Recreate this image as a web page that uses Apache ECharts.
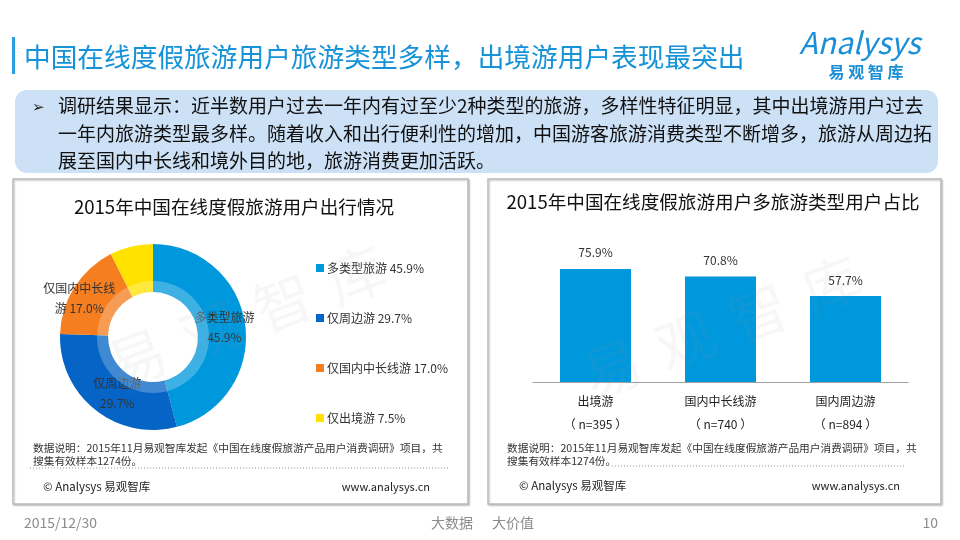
<!DOCTYPE html>
<html>
<head>
<meta charset="utf-8">
<script src="https://cdn.jsdelivr.net/npm/echarts@6/dist/echarts.min.js"></script>
<style>
html,body{margin:0;padding:0;background:#fff;}
#c{width:960px;height:540px;}
</style>
</head>
<body>
<div id="c"></div>
<script>
// ---- data ----
const pieCategories = ['多类型旅游', '仅周边游', '仅国内中长线游', '仅出境游'];
const pieValues = [45.9, 29.7, 17.0, 7.5];
const barCategories = ['出境游', '国内中长线游', '国内周边游'];
const barSamples = [395, 740, 894];
const barValues = [75.9, 70.8, 57.7];

const FONT = '"Noto Sans CJK SC", "Noto Sans", sans-serif';
const pieColors = ['#0098dc', '#0564c6', '#f57e20', '#ffe200'];
const labelPad = {
  '多类型旅游': [0, 0, 0, 0],
  '仅周边游': [8, 0, 0, 18],
  '仅国内中长线游': [16, 26, 0, 0]
};

const chart = echarts.init(document.getElementById('c'));

function txt(x, y, text, style, extra) {
  return Object.assign({
    type: 'text', x: x, y: y, z: 10,
    style: Object.assign({text: text, font: '12px ' + FONT, fill: '#333', textVerticalAlign: 'middle'}, style)
  }, extra || {});
}
function wm(x, y) {
  return ['易', '观', '智', '库'].map((ch, i) => ({
    type: 'text', z: 50, silent: true,
    x: x + i * 73, y: y - i * 27.7, rotation: 0.36,
    style: {text: ch, font: '58px ' + FONT, fill: 'rgba(150,150,150,0.08)', textAlign: 'center', textVerticalAlign: 'middle'}
  }));
}

const graphics = [
  // title bar
  {type: 'rect', shape: {x: 12, y: 37, width: 3, height: 37}, style: {fill: '#2a9fe0'}},
  txt(24, 57, '中国在线度假旅游用户旅游类型多样，出境游用户表现最突出', {font: '26.7px ' + FONT, fill: '#1592d8'}),
  // logo
  txt(860, 43, 'Analysys', {font: 'italic 30px ' + FONT, fill: '#1a8fd8', textAlign: 'center'}),
  txt(866, 72, '易 观 智 库', {font: 'bold 16px ' + FONT, fill: '#1a8fd8', textAlign: 'center'}),
  // summary box
  {type: 'rect', shape: {x: 15, y: 90, width: 923, height: 83, r: 12}, style: {fill: '#cce0f6'}},
  txt(32, 106, '➢', {font: '15px ' + FONT, fill: '#222'}),
  txt(58, 106, '调研结果显示：近半数用户过去一年内有过至少2种类型的旅游，多样性特征明显，其中出境游用户过去', {font: '19px ' + FONT, fill: '#111'}),
  txt(58, 134, '一年内旅游类型最多样。随着收入和出行便利性的增加，中国游客旅游消费类型不断增多，旅游从周边拓', {font: '19px ' + FONT, fill: '#111'}),
  txt(58, 161, '展至国内中长线和境外目的地，旅游消费更加活跃。', {font: '19px ' + FONT, fill: '#111'}),
  // panels
  {type: 'rect', z: -10, shape: {x: 13, y: 179, width: 455, height: 325},
   style: {fill: '#fff', stroke: '#bdbdbd', lineWidth: 1.5, shadowBlur: 2, shadowOffsetX: 1, shadowOffsetY: 1, shadowColor: 'rgba(0,0,0,0.25)'}},
  {type: 'rect', z: -10, shape: {x: 488, y: 179, width: 453, height: 325},
   style: {fill: '#fff', stroke: '#bdbdbd', lineWidth: 1.5, shadowBlur: 2, shadowOffsetX: 1, shadowOffsetY: 1, shadowColor: 'rgba(0,0,0,0.25)'}},
  txt(234, 207, '2015年中国在线度假旅游用户出行情况', {font: '18.6px ' + FONT, fill: '#111', textAlign: 'center'}),
  txt(713, 202, '2015年中国在线度假旅游用户多旅游类型用户占比', {font: '18.6px ' + FONT, fill: '#111', textAlign: 'center'}),
  // footnotes left
  txt(33, 448, '数据说明：2015年11月易观智库发起《中国在线度假旅游产品用户消费调研》项目，共', {font: '10.7px ' + FONT, fill: '#333'}),
  txt(33, 461, '搜集有效样本1274份。', {font: '10.7px ' + FONT, fill: '#333'}),
  {type: 'line', z: 10, shape: {x1: 30, y1: 468, x2: 450, y2: 468}, style: {stroke: '#999', lineWidth: 1, lineDash: [1, 2]}},
  txt(43, 487, '© Analysys 易观智库', {font: '11.5px ' + FONT, fill: '#222'}),
  txt(430, 487, 'www.analysys.cn', {font: '11px ' + FONT, fill: '#222', textAlign: 'right'}),
  // footnotes right
  txt(507, 448, '数据说明：2015年11月易观智库发起《中国在线度假旅游产品用户消费调研》项目，共', {font: '10.7px ' + FONT, fill: '#333'}),
  txt(507, 461, '搜集有效样本1274份。', {font: '10.7px ' + FONT, fill: '#333'}),
  {type: 'line', z: 10, shape: {x1: 612, y1: 466, x2: 905, y2: 466}, style: {stroke: '#999', lineWidth: 1, lineDash: [1, 2]}},
  txt(519, 486, '© Analysys 易观智库', {font: '11.5px ' + FONT, fill: '#222'}),
  txt(900, 486, 'www.analysys.cn', {font: '11px ' + FONT, fill: '#222', textAlign: 'right'}),
  // page footer
  txt(24, 523, '2015/12/30', {font: '14px ' + FONT, fill: '#8c8c8c'}),
  txt(431, 523, '大数据', {font: '14px ' + FONT, fill: '#8c8c8c'}),
  txt(492, 523, '大价值', {font: '14px ' + FONT, fill: '#8c8c8c'}),
  txt(938, 523, '10', {font: '14px ' + FONT, fill: '#8c8c8c', textAlign: 'right'})
].concat(wm(137, 358), wm(612, 368));

const pieData = pieCategories.map((n, i) => {
  const d = {name: n, value: pieValues[i], itemStyle: {color: pieColors[i]}};
  if (i === 3) d.label = {show: false};
  else d.label = {padding: labelPad[n]};
  return d;
});

chart.setOption({
  animation: false,
  textStyle: {fontFamily: FONT},
  graphic: graphics,
  legend: {
    data: pieCategories,
    orient: 'vertical',
    left: 311, top: 257,
    itemGap: 38,
    itemWidth: 8, itemHeight: 8,
    icon: 'rect',
    textStyle: {fontSize: 12, color: '#333', fontFamily: FONT, padding: [0, 0, 0, -2]},
    formatter: name => name + ' ' + pieValues[pieCategories.indexOf(name)].toFixed(1) + '%'
  },
  grid: {left: 533, right: 52, top: 233, bottom: 158},
  xAxis: {
    type: 'category', z: 5,
    data: barCategories.map((c, i) => c + '\n（ n=' + barSamples[i] + ' ）'),
    axisLine: {lineStyle: {color: '#a0a0a0', width: 1}},
    axisTick: {show: false},
    axisLabel: {fontSize: 12, color: '#222', lineHeight: 23, margin: 8, fontFamily: FONT, interval: 0}
  },
  yAxis: {type: 'value', min: 0, max: 100, show: false, splitLine: {show: false}},
  series: [
    {
      type: 'pie', z: 3,
      center: [153, 337], radius: [45, 93],
      startAngle: 90, clockwise: true,
      data: pieData,
      label: {
        show: true, position: 'inside',
        fontSize: 12, color: '#333', lineHeight: 20, fontFamily: FONT,
        formatter: p => {
          const v = p.value.toFixed(1) + '%';
          if (p.name === '仅国内中长线游') return '仅国内中长线\n游 ' + v;
          return p.name + '\n' + v;
        }
      },
      labelLine: {show: false},
      emphasis: {disabled: true}
    },
    {
      type: 'pie', z: 4, silent: true,
      center: [153, 337], radius: [45, 56],
      data: [{value: 1, name: 'ring', itemStyle: {color: 'rgba(255,255,255,0.24)'}}],
      label: {show: false}, labelLine: {show: false},
      emphasis: {disabled: true}
    },
    {
      type: 'bar', z: 3,
      data: barValues,
      barWidth: 71,
      itemStyle: {color: '#0098dc'},
      label: {show: true, position: 'top', distance: 10, fontSize: 12, color: '#333', formatter: p => p.value.toFixed(1) + '%'}
    }
  ]
});
</script>
</body>
</html>
